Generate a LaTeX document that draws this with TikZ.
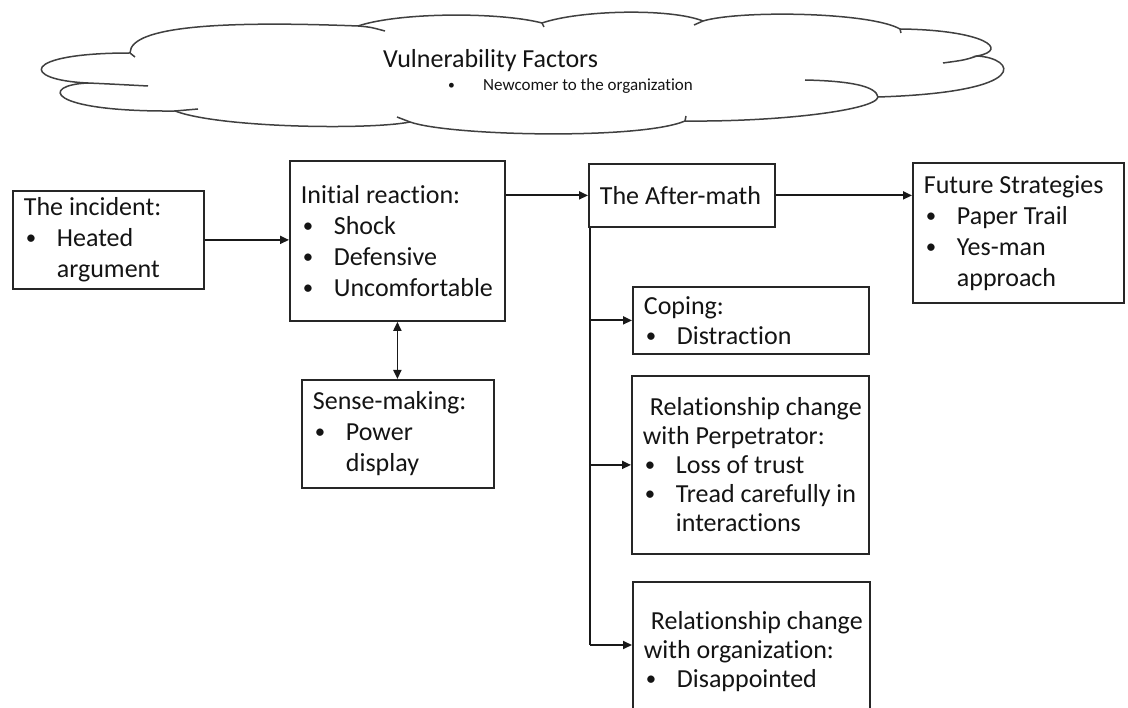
\documentclass[tikz,border=0pt]{standalone}
\usepackage{fontspec}
\setmainfont{Carlito}[Ligatures=NoCommon]
\usetikzlibrary{arrows.meta}
\newcommand{\bxbul}{\raisebox{0.08em}{\scalebox{0.8}{•}}}
\newcommand{\bxhead}[1]{\mbox{\spaceskip=0pt\xspaceskip=0pt\relax #1}}
\newcommand{\bxitem}[1]{\mbox{\spaceskip=0pt\xspaceskip=0pt\relax\hspace*{2pt}\makebox[31pt][l]{\bxbul}#1}}
\newcommand{\bxcont}[1]{\mbox{\spaceskip=0pt\xspaceskip=0pt\relax\hspace*{33pt}#1}}
\begin{document}
\begin{tikzpicture}[x=1pt,y=-1pt,
  box/.style={draw=black!85, line width=1.8pt, inner xsep=11pt, inner ysep=0pt,
    anchor=north west, align=left, font=\fontsize{26}{31}\selectfont, text=black!92},
  rbox/.style={box, font=\fontsize{26}{29}\selectfont},
  arr/.style={-{Triangle[length=9pt,width=8pt]}, line width=1.8pt, draw=black!90},
  dbl/.style={{Triangle[length=9pt,width=8pt]}-{Triangle[length=9pt,width=8pt]}, line width=1.8pt, draw=black!90},
  trunkline/.style={line width=1.8pt, draw=black!90},
  cloudline/.style={draw=black!75, line width=1.5pt},
  txt/.style={inner sep=0pt, anchor=base west, text=black!92}]
\useasboundingbox (0,0) rectangle (1128,708);
\fill[white] (0,0) rectangle (1128,708);

% cloud outline
\draw[cloudline] (130,53) .. controls (130,25) and (230,21) .. (358,26)
  .. controls (400,12) and (500,12) .. (542,23)
  .. controls (580,10) and (670,8) .. (703,21)
  .. controls (740,10) and (870,12) .. (900,29)
  .. controls (985,30) and (1010,50) .. (977,56)
  .. controls (1015,58) and (1035,92) .. (878,97)
  .. controls (876,110) and (780,122) .. (685,121)
  .. controls (640,140) and (450,136) .. (410,122)
  .. controls (370,130) and (220,128) .. (175,111)
  .. controls (45,112) and (40,85) .. (88,83)
  .. controls (20,80) and (20,53) .. (130,53);
% inner strokes of the cloud
\draw[cloudline] (130,53) -- (135,57);
\draw[cloudline] (358,26) .. controls (370,27) .. (385,31);
\draw[cloudline] (542,23) -- (544,27);
\draw[cloudline] (703,21) -- (694,25);
\draw[cloudline] (900,29) -- (901,33);
\draw[cloudline] (977,56) .. controls (965,60) .. (943,63);
\draw[cloudline] (878,97) .. controls (876,86) and (850,81) .. (805,80);
\draw[cloudline] (685,121) -- (686,116);
\draw[cloudline] (410,122) .. controls (403,120) .. (397,117);
\draw[cloudline] (175,111) -- (198,109);
\draw[cloudline] (88,83) .. controls (110,84) .. (148,86);

\node[txt, font=\fontsize{26}{31}\selectfont] (vf) at (383,68) {Vulnerability Factors};
\node[txt, font=\fontsize{17}{20}\selectfont] (vfb) at (448,91) {\bxbul};
\node[txt, font=\fontsize{17}{20}\selectfont] (vfi) at (483,91) {Newcomer to the organization};

% boxes
\node[box, text width=169pt, minimum height=98pt] (inc) at (12,190)
  {\bxhead{The incident:}\\ \bxitem{Heated}\\ \bxcont{argument}};
\node[box, text width=193pt, minimum height=160pt] (init) at (289,160)
  {\bxhead{Initial reaction:}\\ \bxitem{Shock}\\ \bxitem{Defensive}\\ \bxitem{Uncomfortable}};
\node[box, text width=170pt, minimum height=108pt] (sense) at (301,379)
  {\bxhead{Sense-making:}\\ \bxitem{Power}\\ \bxcont{display}};
\node[box, text width=164pt, minimum height=63pt] (after) at (588,163)
  {\bxhead{The After-math}};
\node[box, text width=189pt, minimum height=140pt] (fut) at (912,162)
  {\bxhead{Future Strategies}\\ \bxitem{Paper Trail}\\ \bxitem{Yes-man}\\ \bxcont{approach}};
\node[box, font=\fontsize{26}{30}\selectfont, text width=214pt, minimum height=67pt] (coping) at (632,286)
  {\bxhead{Coping:}\\ \bxitem{Distraction}};
\node[rbox, text width=215pt, minimum height=178pt] (perp) at (631,375)
  {\bxhead{\hspace*{7pt}Relationship change}\\ \bxhead{with Perpetrator:}\\ \bxitem{Loss of trust}\\ \bxitem{Tread carefully in}\\ \bxcont{interactions}};
\node[rbox, text width=215pt, minimum height=140pt] (org) at (632,581)
  {\bxhead{\hspace*{7pt}Relationship change}\\ \bxhead{with organization:}\\ \bxitem{Disappointed}};

% connectors
\draw[arr] (inc.east) -- (inc.east -| init.west);
\draw[arr] (init.east |- after.west) -- (after.west);
\draw[arr] (after.east) -- (after.east -| fut.west);
\draw[dbl] (init.south) -- (init.south |- sense.north);
\coordinate (tr) at ([xshift=2pt]after.south west);
\coordinate (tb) at (tr |- 0,645);
\draw[trunkline] (tr) -- (tb);
\draw[arr] (tr |- coping.west) -- (coping.west);
\draw[arr] (tr |- perp.west) -- (perp.west);
\draw[arr] (tb) -- (tb -| org.west);
\end{tikzpicture}
\end{document}
